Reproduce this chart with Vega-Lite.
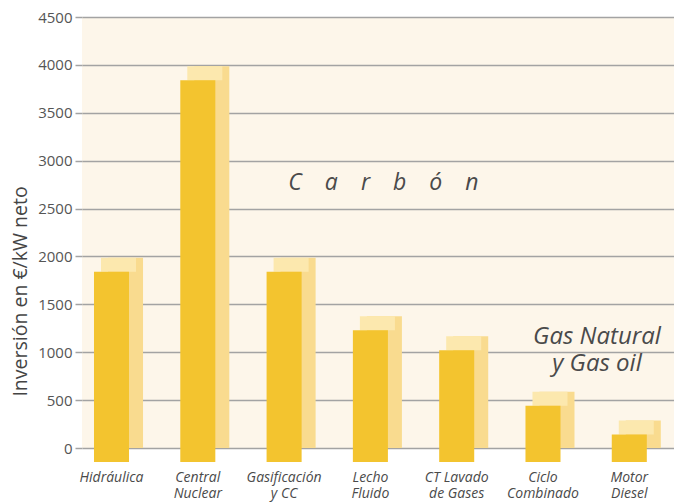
{
  "$schema": "https://vega.github.io/schema/vega-lite/v6.json",
  "width": 592,
  "height": 431,
  "autosize": {"type": "none"},
  "padding": {"left": 82, "top": 17, "right": 0, "bottom": 56},
  "background": "#ffffff",
  "view": {"fill": "#fdf6ea", "stroke": null},
  "encoding": {
    "x": {
      "field": "tecnologia",
      "type": "nominal",
      "sort": null,
      "scale": {
        "domain": ["Hidráulica", "Central\nNuclear", "Gasificación\ny CC", "Lecho\nFluido", "CT Lavado\nde Gases", "Ciclo\nCombinado", "Motor\nDiesel"],
        "paddingInner": 0.594, "paddingOuter": 0.227, "align": 0.306
      },
      "axis": {
        "title": null,
        "domain": false,
        "ticks": false,
        "grid": false,
        "labelAngle": 0,
        "labelPadding": 22,
        "labelFont": "Open Sans",
        "labelFontStyle": "italic",
        "labelFontSize": 14,
        "labelColor": "#4a4a4a",
        "labelLineHeight": 16,
        "labelBaseline": "top",
        "labelExpr": "split(datum.label, '\\n')"
      }
    },
    "y": {
      "field": "inversion",
      "type": "quantitative",
      "scale": {"domain": [0, 4500], "nice": false},
      "axis": {
        "title": "Inversión en €/kW neto",
        "titleFont": "Open Sans",
        "titleFontSize": 19.5,
        "titleFontWeight": "normal",
        "titleColor": "#444444",
        "titleX": -62,
        "titleY": 274,
        "titleAngle": 270,
        "titleAlign": "center",
        "titleBaseline": "middle",
        "values": [0, 500, 1000, 1500, 2000, 2500, 3000, 3500, 4000, 4500],
        "format": "d",
        "domain": false,
        "grid": true,
        "gridColor": "#a3a3a3",
        "gridWidth": 1.5,
        "tickSize": 7,
        "tickColor": "#a3a3a3",
        "tickWidth": 1.5,
        "labelPadding": 3,
        "labelFont": "Open Sans",
        "labelFontSize": 15,
        "labelColor": "#555555"
      }
    }
  },
  "layer": [
    {
      "data": {
        "values": [
          {"tecnologia": "Hidráulica", "inversion": 1840},
          {"tecnologia": "Central\nNuclear", "inversion": 3840},
          {"tecnologia": "Gasificación\ny CC", "inversion": 1840},
          {"tecnologia": "Lecho\nFluido", "inversion": 1230},
          {"tecnologia": "CT Lavado\nde Gases", "inversion": 1020},
          {"tecnologia": "Ciclo\nCombinado", "inversion": 440},
          {"tecnologia": "Motor\nDiesel", "inversion": 140}
        ]
      },
      "layer": [
        {
          "mark": {"type": "bar", "clip": false, "color": "#f9db8f", "xOffset": 14, "yOffset": -14},
          "encoding": {"y2": {"datum": 0}}
        },
        {
          "mark": {"type": "bar", "clip": false, "color": "#fce8ae", "xOffset": 7, "yOffset": -14},
          "encoding": {"y2": {"field": "inversion"}}
        },
        {
          "mark": {"type": "bar", "clip": false, "color": "#f3c42f", "y2Offset": 14},
          "encoding": {"y2": {"datum": 0}}
        }
      ]
    },
    {
      "data": {"values": [{"nota": "C\u2003a\u2003r\u2003b\u2003ó\u2003n", "pos": 2770}]},
      "mark": {
        "type": "text",
        "font": "Open Sans",
        "fontStyle": "italic",
        "fontSize": 23,
        "color": "#4a4a4a",
        "align": "center",
        "baseline": "middle",
        "dx": 13
      },
      "encoding": {
        "text": {"field": "nota"},
        "x": {"datum": "Lecho\nFluido"},
        "y": {"field": "pos", "type": "quantitative"}
      }
    },
    {
      "data": {"values": [{"nota": "Gas Natural", "pos": 1160}, {"nota": "y Gas oil", "pos": 880}]},
      "mark": {
        "type": "text",
        "font": "Open Sans",
        "fontStyle": "italic",
        "fontSize": 24,
        "color": "#4a4a4a",
        "align": "center",
        "baseline": "middle",
        "dx": 54
      },
      "encoding": {
        "text": {"field": "nota"},
        "x": {"datum": "Ciclo\nCombinado"},
        "y": {"field": "pos", "type": "quantitative"}
      }
    }
  ]
}
